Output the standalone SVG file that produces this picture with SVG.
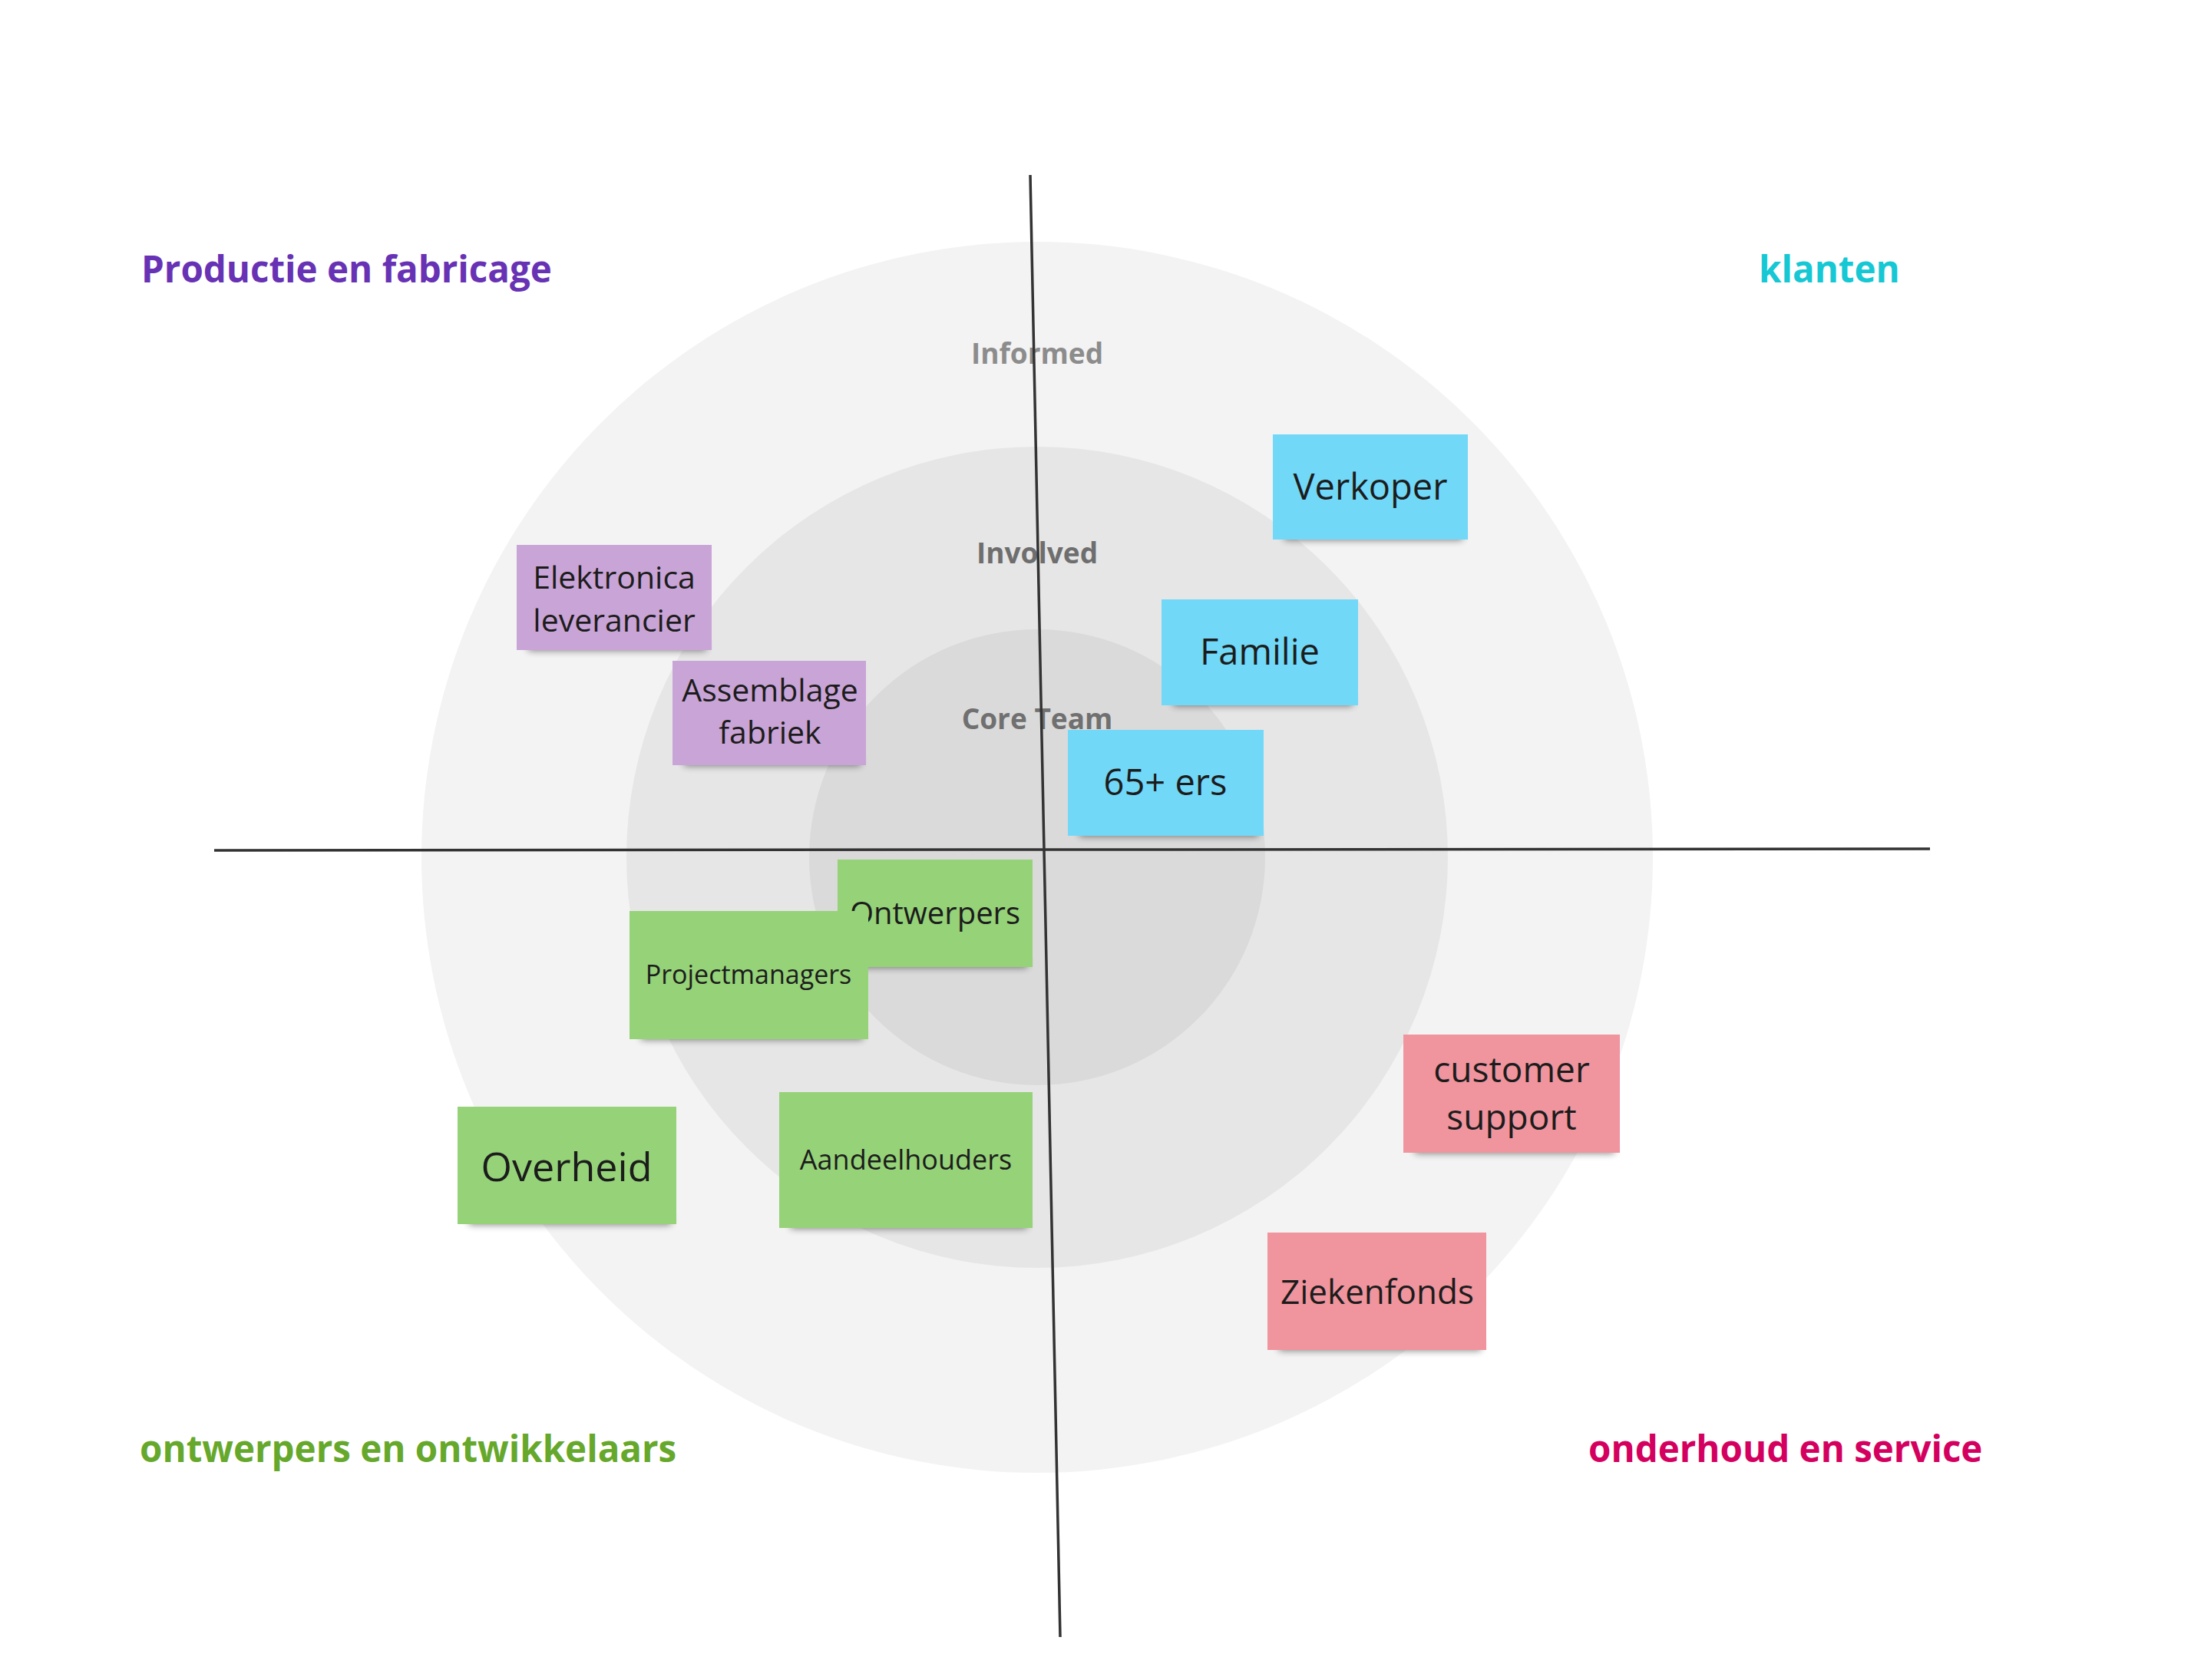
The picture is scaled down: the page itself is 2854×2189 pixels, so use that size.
<svg xmlns="http://www.w3.org/2000/svg" width="2854" height="2189" viewBox="0 0 2854 2189">
<style>
.note-text{font-family:"Open Sans","Liberation Sans",sans-serif;fill:#1c1c1c;text-anchor:middle}
.ring{font-family:"Open Sans","Liberation Sans",sans-serif;font-weight:700;font-size:37px;text-anchor:middle}
.quad{font-family:"Open Sans","Liberation Sans",sans-serif;font-weight:700;font-size:47.5px}
.shadow{fill:#000;opacity:0.45}
.purple{fill:#c9a4d6}
.blue{fill:#71d8f8}
.green{fill:#95d278}
.pink{fill:#f0949e}
.axis{stroke:#333;stroke-width:3.5;fill:none}
</style>
<defs>
<filter id="blur" x="-20%" y="-100%" width="140%" height="300%"><feGaussianBlur stdDeviation="5"/></filter>
</defs>
<rect x="0" y="0" width="2854" height="2189" fill="#ffffff"/>
<g id="rings">
<circle cx="1351" cy="1117" r="802" fill="#f3f3f3"/>
<circle cx="1351" cy="1117" r="535" fill="#e6e6e6"/>
<circle cx="1351" cy="1117" r="297" fill="#dadada"/>
<text class="ring" x="1351" y="474" fill="#8c8c8c">Informed</text>
<text class="ring" x="1351" y="734" fill="#6e6e6e">Involved</text>
<text class="ring" x="1351" y="950" fill="#707070">Core Team</text>
</g>
<g id="quadrant-labels">
<text class="quad" x="184" y="368" fill="#6832b5">Productie en fabricage</text>
<text class="quad" x="2291" y="368" fill="#16c8d4">klanten</text>
<text class="quad" x="182" y="1905" fill="#66a82b">ontwerpers en ontwikkelaars</text>
<text class="quad" x="2069" y="1905" fill="#d4005f">onderhoud en service</text>
</g>
<g id="connectors">
<line class="axis" x1="1342" y1="228" x2="1381" y2="2133"/>
<line class="axis" x1="279" y1="1108" x2="2514" y2="1106"/>
</g>
<g id="n-elektronica">
<rect class="shadow" filter="url(#blur)" x="688" y="836" width="232" height="12"/>
<rect class="purple" x="673" y="710" width="254" height="137"/>
<text class="note-text" font-size="41" x="800" y="767">Elektronica</text>
<text class="note-text" font-size="41" x="800" y="823">leverancier</text>
</g>
<g id="n-assemblage">
<rect class="shadow" filter="url(#blur)" x="891" y="986" width="230" height="12"/>
<rect class="purple" x="876" y="861" width="252" height="136"/>
<text class="note-text" font-size="41" x="1003" y="914">Assemblage</text>
<text class="note-text" font-size="41" x="1003" y="969">fabriek</text>
</g>
<g id="n-verkoper">
<rect class="shadow" filter="url(#blur)" x="1673" y="692" width="232" height="12"/>
<rect class="blue" x="1658" y="566" width="254" height="137"/>
<text class="note-text" font-size="47" x="1785" y="651">Verkoper</text>
</g>
<g id="n-familie">
<rect class="shadow" filter="url(#blur)" x="1528" y="908" width="234" height="12"/>
<rect class="blue" x="1513" y="781" width="256" height="138"/>
<text class="note-text" font-size="47" x="1641" y="866">Familie</text>
</g>
<g id="n-65ers">
<rect class="shadow" filter="url(#blur)" x="1406" y="1078" width="233" height="12"/>
<rect class="blue" x="1391" y="951" width="255" height="138"/>
<text class="note-text" font-size="47" x="1518" y="1036">65+ ers</text>
</g>
<g id="n-ontwerpers">
<rect class="shadow" filter="url(#blur)" x="1106" y="1249" width="232" height="12"/>
<rect class="green" x="1091" y="1120" width="254" height="140"/>
<text class="note-text" font-size="40" x="1218" y="1204">Ontwerpers</text>
</g>
<g id="n-projectmanagers">
<rect class="shadow" filter="url(#blur)" x="835" y="1343" width="289" height="12"/>
<rect class="green" x="820" y="1187" width="311" height="167"/>
<text class="note-text" font-size="34" x="975" y="1282">Projectmanagers</text>
</g>
<g id="n-overheid">
<rect class="shadow" filter="url(#blur)" x="611" y="1584" width="263" height="12"/>
<rect class="green" x="596" y="1442" width="285" height="153"/>
<text class="note-text" font-size="52" x="738" y="1539">Overheid</text>
</g>
<g id="n-aandeelhouders">
<rect class="shadow" filter="url(#blur)" x="1030" y="1589" width="308" height="12"/>
<rect class="green" x="1015" y="1423" width="330" height="177"/>
<text class="note-text" font-size="36" x="1180" y="1524">Aandeelhouders</text>
</g>
<g id="n-customer-support">
<rect class="shadow" filter="url(#blur)" x="1843" y="1491" width="260" height="12"/>
<rect class="pink" x="1828" y="1348" width="282" height="154"/>
<text class="note-text" font-size="46" x="1969" y="1410">customer</text>
<text class="note-text" font-size="46" x="1969" y="1472">support</text>
</g>
<g id="n-ziekenfonds">
<rect class="shadow" filter="url(#blur)" x="1666" y="1748" width="263" height="12"/>
<rect class="pink" x="1651" y="1606" width="285" height="153"/>
<text class="note-text" font-size="44" x="1794" y="1699">Ziekenfonds</text>
</g>
</svg>
